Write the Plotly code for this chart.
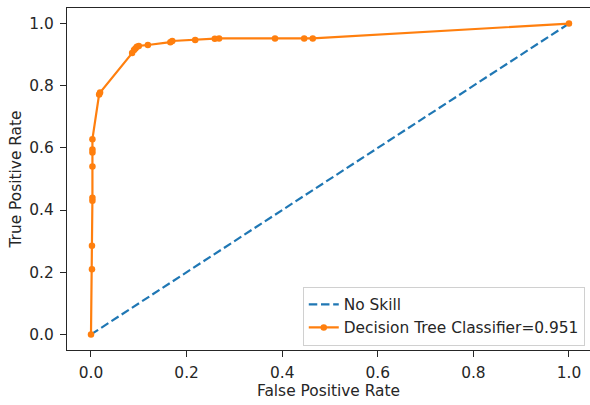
import plotly.graph_objects as go

# Data
no_skill_fpr = [0.0, 1.0]
no_skill_tpr = [0.0, 1.0]

dt_fpr = [0.0, 0.002, 0.002, 0.003, 0.003, 0.003, 0.003, 0.003, 0.003,
          0.017, 0.019, 0.086, 0.090, 0.093, 0.096, 0.100, 0.119,
          0.166, 0.170, 0.218, 0.259, 0.268, 0.385, 0.446, 0.464, 1.0]
dt_tpr = [0.0, 0.210, 0.285, 0.430, 0.440, 0.540, 0.585, 0.595, 0.628,
          0.772, 0.778, 0.905, 0.915, 0.920, 0.925, 0.928, 0.931,
          0.940, 0.944, 0.947, 0.951, 0.952, 0.952, 0.952, 0.952, 1.0]

tick_vals = [0.0, 0.2, 0.4, 0.6, 0.8, 1.0]
auc_label = "Decision Tree Classifier=0.951"

FONT = "DejaVu Sans"
FS = 15.4
TXT = "#262626"

fig = go.Figure()
fig.add_trace(go.Scatter(
    x=no_skill_fpr, y=no_skill_tpr, mode="lines", name="No Skill",
    line=dict(color="#1f77b4", width=2.2, dash="8.5px,3.7px"),
))
fig.add_trace(go.Scatter(
    x=dt_fpr, y=dt_tpr, mode="lines+markers", name=auc_label,
    line=dict(color="#ff7f0e", width=2.2),
    marker=dict(color="#ff7f0e", size=6.5),
))

axis_common = dict(
    showgrid=False, zeroline=False, showline=True, linecolor="#262626",
    linewidth=1.2, ticks="outside", ticklen=6, tickwidth=1.2,
    tickcolor="#262626", tickvals=tick_vals, tickformat=".1f",
    tickfont=dict(family=FONT, size=FS, color=TXT),
)

fig.update_layout(
    width=590, height=405,
    margin=dict(l=67, r=0, t=8, b=55),
    paper_bgcolor="white", plot_bgcolor="white",
    font=dict(family=FONT, size=FS, color=TXT),
    xaxis=dict(range=[-0.0502, 1.044], mirror=True, ticklabelstandoff=2,
               title=dict(text="False Positive Rate",
                          font=dict(family=FONT, size=FS, color=TXT), standoff=4),
               **axis_common),
    yaxis=dict(range=[-0.05, 1.05], mirror=False, ticklabelstandoff=3,
               title=dict(text="True Positive Rate",
                          font=dict(family=FONT, size=FS, color=TXT), standoff=3),
               **axis_common),
    showlegend=True,
    legend=dict(x=0.99, y=0.012, xanchor="right", yanchor="bottom",
                bgcolor="rgba(255,255,255,0.8)", bordercolor="#d0d0d0",
                borderwidth=1, font=dict(family=FONT, size=FS, color=TXT),
                tracegroupgap=0),
)

fig.write_html("out.html")
